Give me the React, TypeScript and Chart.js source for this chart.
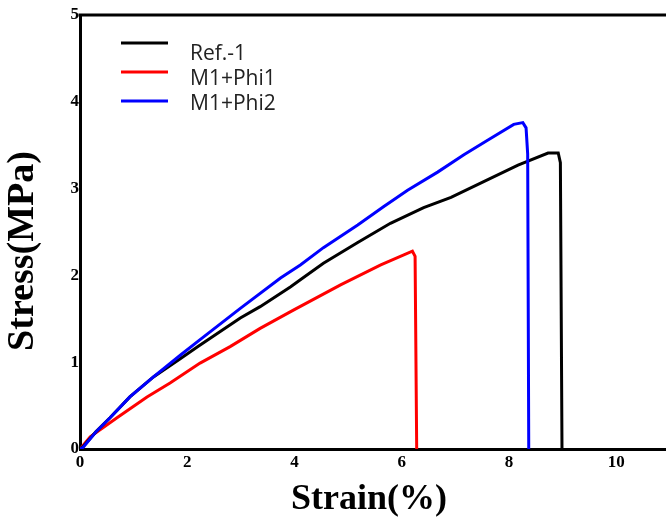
import React, { useEffect, useRef } from "react";
import { Chart, registerables } from "chart.js";

Chart.register(...registerables);

const seriesNames = ["Ref.-1", "M1+Phi1", "M1+Phi2"];
const seriesColors = ["#000000", "#ff0000", "#0000ff"];

const refStrain = [0, 0.06, 0.3, 0.56, 0.93, 1.37, 1.87, 2.2, 2.99, 3.36, 3.93, 4.11, 4.54, 5.18, 5.79, 6.41, 6.92, 7.53, 8.17, 8.73, 8.92, 8.96, 8.99];
const refStress = [0, 0.03, 0.2, 0.36, 0.6, 0.83, 1.04, 1.18, 1.51, 1.64, 1.87, 1.95, 2.14, 2.38, 2.6, 2.78, 2.9, 3.08, 3.27, 3.41, 3.41, 3.3, 0];

const phi1Strain = [0, 0.19, 0.69, 1.25, 1.68, 2.24, 2.8, 3.36, 3.98, 4.86, 5.61, 6.2, 6.25, 6.28];
const phi1Stress = [0, 0.14, 0.36, 0.6, 0.76, 0.99, 1.18, 1.39, 1.6, 1.89, 2.12, 2.28, 2.22, 0];

const phi2Strain = [0, 0.06, 0.3, 0.56, 0.93, 1.37, 1.87, 2.24, 2.99, 3.74, 4.11, 4.54, 5.18, 5.66, 6.11, 6.67, 7.16, 7.61, 8.09, 8.26, 8.32, 8.35, 8.37];
const phi2Stress = [0, 0.02, 0.2, 0.36, 0.6, 0.83, 1.08, 1.26, 1.62, 1.97, 2.12, 2.32, 2.58, 2.79, 2.98, 3.19, 3.39, 3.56, 3.74, 3.76, 3.7, 3.4, 0];

const xTicks = [0, 2, 4, 6, 8, 10];
const yTicks = [0, 1, 2, 3, 4, 5];
const xMin = 0;
const xMax = 10.93;
const yMin = 0;
const yMax = 5;
const xTitle = "Strain(%)";
const yTitle = "Stress(MPa)";

const serif = "'Times New Roman', 'Liberation Serif', serif";

function toPoints(xs: number[], ys: number[]) {
  return xs.map((x, i) => ({ x, y: ys[i] }));
}

const decorPlugin = {
  id: "decor",
  afterDraw(chart: any) {
    const { ctx, chartArea } = chart;
    ctx.save();
    // top frame line
    ctx.strokeStyle = "#000";
    ctx.lineWidth = 3;
    ctx.beginPath();
    ctx.moveTo(chartArea.left - 1.5, chartArea.top);
    ctx.lineTo(chart.width, chartArea.top);
    ctx.stroke();

    // legend
    const lineY = [43, 72, 101];
    const textY = [60, 85, 110];
    ctx.font = "21px 'Open Sans', sans-serif";
    ctx.textAlign = "left";
    ctx.textBaseline = "alphabetic";
    seriesNames.forEach((name, i) => {
      ctx.strokeStyle = seriesColors[i];
      ctx.lineWidth = 3;
      ctx.beginPath();
      ctx.moveTo(121, lineY[i]);
      ctx.lineTo(168, lineY[i]);
      ctx.stroke();
      ctx.fillStyle = "#222";
      ctx.fillText(name, 190, textY[i]);
    });

    // axis titles
    ctx.fillStyle = "#000";
    ctx.font = `bold 36px ${serif}`;
    ctx.textAlign = "center";
    ctx.textBaseline = "alphabetic";
    ctx.fillText(xTitle, 369, 509);

    ctx.save();
    ctx.translate(33, 251);
    ctx.rotate(-Math.PI / 2);
    ctx.font = `bold 38px ${serif}`;
    ctx.fillText(yTitle, 0, 0);
    ctx.restore();

    ctx.restore();
  },
};

export default function App() {
  const canvasRef = useRef<HTMLCanvasElement | null>(null);

  useEffect(() => {
    if (!canvasRef.current) return;
    const chart = new Chart(canvasRef.current, {
      type: "scatter",
      data: {
        datasets: [
          {
            label: seriesNames[0],
            data: toPoints(refStrain, refStress),
            borderColor: seriesColors[0],
            backgroundColor: seriesColors[0],
            order: 1,
          },
          {
            label: seriesNames[1],
            data: toPoints(phi1Strain, phi1Stress),
            borderColor: seriesColors[1],
            backgroundColor: seriesColors[1],
            order: 2,
          },
          {
            label: seriesNames[2],
            data: toPoints(phi2Strain, phi2Stress),
            borderColor: seriesColors[2],
            backgroundColor: seriesColors[2],
            order: 0,
          },
        ].map((d) => ({
          ...d,
          showLine: true,
          pointRadius: 0,
          borderWidth: 3,
          tension: 0,
        })),
      },
      options: {
        animation: false,
        responsive: true,
        maintainAspectRatio: false,
        layout: { padding: { top: 15, left: 0, right: 0, bottom: 0 } },
        plugins: {
          legend: { display: false },
          tooltip: { enabled: false },
        },
        scales: {
          x: {
            type: "linear",
            min: xMin,
            max: xMax,
            afterBuildTicks: (s: any) => {
              s.ticks = xTicks.map((v) => ({ value: v }));
            },
            afterFit: (s: any) => {
              s.height = 70;
            },
            grid: { display: false, drawTicks: false },
            border: { display: true, color: "#000", width: 3 },
            ticks: {
              color: "#000",
              padding: 3,
              maxRotation: 0,
              autoSkip: false,
              font: { family: serif, size: 17, weight: "bold" },
            },
          },
          y: {
            type: "linear",
            min: yMin,
            max: yMax,
            afterBuildTicks: (s: any) => {
              s.ticks = yTicks.map((v) => ({ value: v }));
            },
            afterFit: (s: any) => {
              s.width = 80;
            },
            grid: { display: false, drawTicks: false },
            border: { display: true, color: "#000", width: 3 },
            ticks: {
              color: "#000",
              padding: 1,
              autoSkip: false,
              font: { family: serif, size: 17, weight: "bold" },
            },
          },
        },
      },
      plugins: [decorPlugin],
    } as any);
    return () => chart.destroy();
  }, []);

  return (
    <div style={{ position: "fixed", left: 0, top: 0, width: 666, height: 519, background: "#fff" }}>
      <canvas ref={canvasRef} />
    </div>
  );
}
